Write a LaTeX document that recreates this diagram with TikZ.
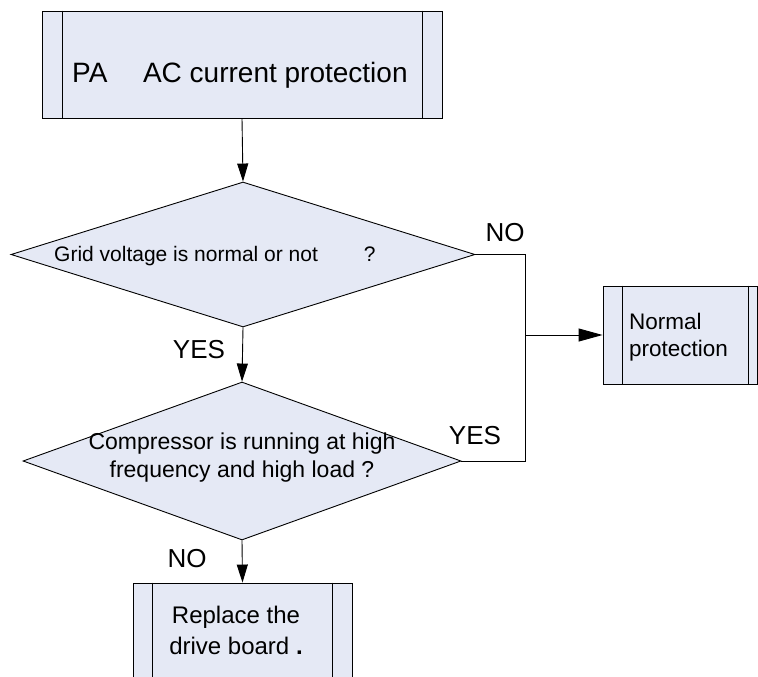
\documentclass[tikz,border=0pt]{standalone}
\usepackage{fontspec}
\setmainfont{Liberation Sans}
\usetikzlibrary{shapes.geometric,arrows.meta}
\definecolor{boxfill}{RGB}{229,233,245}
\begin{document}
\begin{tikzpicture}[x=1pt,y=-1pt,
  procbox/.style={draw=black,fill=boxfill,line width=0.9pt,rectangle,inner sep=0pt},
  decbox/.style={draw=black,fill=boxfill,line width=0.9pt,diamond,inner sep=0pt},
  txt/.style={inner sep=0pt,font=\fontsize{22}{26}\selectfont},
  lbl/.style={inner sep=0pt,font=\fontsize{26}{30}\selectfont},
  conn/.style={draw=black,line width=0.9pt},
  tip/.style={-{Triangle[length=18pt,width=11pt]}},
  bigtip/.style={-{Triangle[length=24pt,width=13pt]}},
]
\useasboundingbox (0,0) rectangle (758,677);
\clip (0,0) rectangle (758,677);

% top box
\node[procbox,minimum width=400pt,minimum height=107pt] (start) at (242,64.5) {};
\draw[conn] ([xshift=21pt]start.north west) -- ([xshift=21pt]start.south west);
\draw[conn] ([xshift=-20pt]start.north east) -- ([xshift=-20pt]start.south east);
\node[inner sep=0pt,font=\fontsize{28}{32}\selectfont,anchor=base west] (t1) at (72,82) {PA\hspace{35.6pt}AC current protection};

% decision 1
\node[decbox,minimum width=464pt,minimum height=145pt] (d1) at (243,254.5) {};
\node[inner sep=0pt,font=\fontsize{21}{25}\selectfont,anchor=west] (q1) at (54,256) {Grid voltage is normal or not\hspace{46pt}?};

% decision 2
\node[decbox,minimum width=438pt,minimum height=158pt] (d2) at (242,461) {};
\node[txt,font=\fontsize{23}{28}\selectfont,align=center] (q2) at (242,458) {Compressor is running at high\\frequency and high load ?};

% normal protection
\node[procbox,minimum width=154pt,minimum height=98pt] (np) at (680,335) {};
\draw[conn] ([xshift=20pt]np.north west) -- ([xshift=20pt]np.south west);
\draw[conn] ([xshift=-9pt]np.north east) -- ([xshift=-9pt]np.south east);
\node[txt,font=\fontsize{22.5}{27}\selectfont,align=left,anchor=west] (npt) at (629,337) {Normal\\protection};

% replace board
\node[procbox,minimum width=219pt,minimum height=117pt] (rb) at (242.5,641.5) {};
\draw[conn] ([xshift=20pt]rb.north west) -- ([xshift=20pt]rb.south west);
\draw[conn] ([xshift=-20pt]rb.north east) -- ([xshift=-20pt]rb.south east);
\node[txt,font=\fontsize{24}{31}\selectfont,align=center] (rbt) at (236,630) {Replace the\\drive board \textbf{.}};

% connectors
\coordinate (jm) at (525,335);
\draw[conn,tip] (start.south) -- (d1.north);
\draw[conn,tip] (d1.south) -- (d2.north);
\draw[conn,tip] (d2.south) -- (rb.north);
\draw[conn] (d1.east) -- (d1.east -| jm) -- (d2.east -| jm) -- (d2.east);
\draw[conn,bigtip] (np.west -| jm) -- (np.west);

% labels
\node[lbl] (l1) at (505,233) {NO};
\node[lbl] (l2) at (199,350) {YES};
\node[lbl] (l3) at (475,436) {YES};
\node[lbl] (l4) at (187,559) {NO};
\end{tikzpicture}
\end{document}
